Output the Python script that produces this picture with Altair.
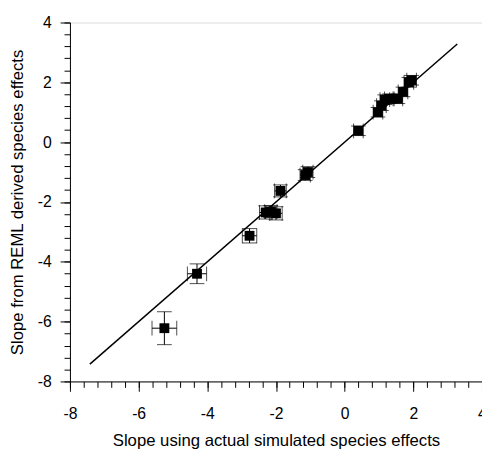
import altair as alt
import pandas as pd

# Data
sim_slope = [-5.25, -4.30, -2.77, -2.30, -2.15, -2.00, -1.87, -1.15, -1.07,
             0.40, 0.97, 1.07, 1.17, 1.30, 1.55, 1.70, 1.87, 1.95]
reml_slope = [-6.22, -4.40, -3.13, -2.35, -2.32, -2.38, -1.63, -1.10, -1.00,
              0.38, 1.00, 1.22, 1.42, 1.45, 1.45, 1.68, 2.00, 2.07]
sim_err = [0.36, 0.28, 0.21, 0.18, 0.18, 0.18, 0.17, 0.15, 0.15,
           0.14, 0.14, 0.14, 0.14, 0.14, 0.14, 0.14, 0.14, 0.14]
reml_err = [0.55, 0.33, 0.24, 0.22, 0.20, 0.22, 0.20, 0.18, 0.18,
            0.16, 0.16, 0.16, 0.16, 0.16, 0.16, 0.16, 0.16, 0.16]

line_x = [-7.42, 3.28]
line_y = [-7.42, 3.28]

major_ticks = [-8, -6, -4, -2, 0, 2, 4]
minor_ticks = [round(-8 + 0.4 * i, 2) for i in range(31)]

FONT = "Liberation Sans"
LBL = "'' + datum.value"

df = pd.DataFrame({"x": sim_slope, "y": reml_slope, "xe": sim_err, "ye": reml_err})
df["xl"] = df["x"] - df["xe"]
df["xr"] = df["x"] + df["xe"]
df["yl"] = df["y"] - df["ye"]
df["yh"] = df["y"] + df["ye"]
line_df = pd.DataFrame({"x": line_x, "y": line_y})

xscale = alt.Scale(domain=[-8, 4], nice=False, zero=False)
yscale = alt.Scale(domain=[-8, 4], nice=False, zero=False)

xaxis = alt.Axis(values=major_ticks, tickSize=10, labelPadding=15, labelFontSize=16,
                 labelFont=FONT, labelColor="black", labelExpr=LBL,
                 title="Slope using actual simulated species effects",
                 titleFont=FONT, titleFontSize=17, titleFontWeight="normal", titleColor="black",
                 titlePadding=11, domainColor="black", tickColor="black", grid=False, orient="bottom",
                 labelFlush=False, labelOverlap=False)
yaxis = alt.Axis(values=major_ticks, tickSize=10, labelPadding=9, labelFontSize=16,
                 labelFont=FONT, labelColor="black", labelExpr=LBL,
                 title="Slope from REML derived species effects",
                 titleFont=FONT, titleFontSize=17, titleFontWeight="normal", titleColor="black",
                 titlePadding=11, domainColor="black", tickColor="black", grid=False, orient="left",
                 labelFlush=False, labelOverlap=False)
xminor = alt.Axis(values=minor_ticks, tickSize=6, labels=False, domain=False, title=None,
                  tickColor="black", grid=False, orient="bottom")
yminor = alt.Axis(values=minor_ticks, tickSize=6, labels=False, domain=False, title=None,
                  tickColor="black", grid=False, orient="left")

base = alt.Chart(df)

minor_layer = alt.Chart(line_df).mark_point(opacity=0).encode(
    x=alt.X("x:Q", scale=xscale, axis=xminor),
    y=alt.Y("y:Q", scale=yscale, axis=yminor),
)

line = alt.Chart(line_df).mark_line(color="black", strokeWidth=1.5).encode(
    x=alt.X("x:Q", scale=xscale, axis=xaxis),
    y=alt.Y("y:Q", scale=yscale, axis=yaxis),
)

xbar = base.mark_rule(color="black", strokeWidth=1).encode(
    x=alt.X("xl:Q", scale=xscale), x2="xr:Q", y=alt.Y("y:Q", scale=yscale))
ybar = base.mark_rule(color="black", strokeWidth=1).encode(
    y=alt.Y("yl:Q", scale=yscale), y2="yh:Q", x=alt.X("x:Q", scale=xscale))

cap_l = base.mark_tick(orient="vertical", color="black", size=15, thickness=1).encode(
    x=alt.X("xl:Q", scale=xscale), y=alt.Y("y:Q", scale=yscale))
cap_r = base.mark_tick(orient="vertical", color="black", size=15, thickness=1).encode(
    x=alt.X("xr:Q", scale=xscale), y=alt.Y("y:Q", scale=yscale))
cap_b = base.mark_tick(orient="horizontal", color="black", size=15, thickness=1).encode(
    x=alt.X("x:Q", scale=xscale), y=alt.Y("yl:Q", scale=yscale))
cap_t = base.mark_tick(orient="horizontal", color="black", size=15, thickness=1).encode(
    x=alt.X("x:Q", scale=xscale), y=alt.Y("yh:Q", scale=yscale))

pts = base.mark_square(size=100, color="black", filled=True, opacity=1).encode(
    x=alt.X("x:Q", scale=xscale), y=alt.Y("y:Q", scale=yscale))

data_layers = alt.layer(line, xbar, ybar, cap_l, cap_r, cap_b, cap_t, pts)

chart = alt.layer(minor_layer, data_layers).resolve_axis(x="independent", y="independent").properties(
    width=419, height=365,
    autosize=alt.AutoSizeParams(type="none"),
    padding={"left": 63, "top": 11, "right": 0, "bottom": 67},
).configure_view(stroke=None).configure(background="white")

chart.save("out.html", embed_options={"renderer": "svg", "actions": False})
